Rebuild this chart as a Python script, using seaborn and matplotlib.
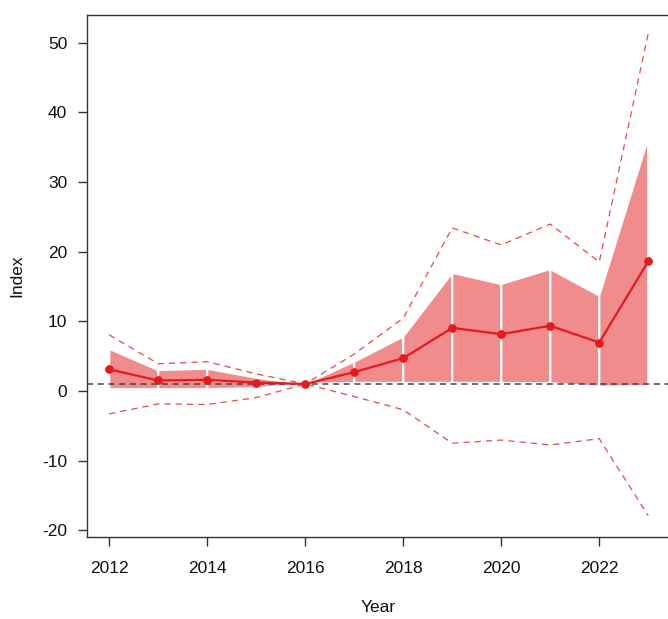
import matplotlib
matplotlib.use("Agg")
import matplotlib.pyplot as plt
import seaborn as sns
import pandas as pd

years = list(range(2012, 2024))
index_mid = [3.1, 1.5, 1.6, 1.2, 1.0, 2.7, 4.7, 9.05, 8.15, 9.35, 6.95, 18.6]
inner_hi = [6.05, 3.0, 3.2, 1.9, 1.0, 4.2, 7.8, 16.95, 15.35, 17.5, 13.7, 36.3]
inner_lo = [0.25, 0.25, 0.25, 0.4, 1.0, 1.15, 1.15, 1.15, 1.15, 1.1, 0.6, 0.7]
outer_hi = [8.05, 3.9, 4.2, 2.45, 1.0, 5.3, 10.45, 23.4, 20.95, 23.95, 18.5, 51.3]
outer_lo = [-3.3, -1.85, -1.95, -0.95, 1.0, -0.8, -2.7, -7.5, -7.05, -7.75, -6.85, -17.9]
baseline = 1.0
x_ticks = [2012, 2014, 2016, 2018, 2020, 2022]
y_ticks = [-20, -10, 0, 10, 20, 30, 40, 50]

df = pd.DataFrame({"Year": years, "Index": index_mid,
                   "hi": outer_hi, "lo": outer_lo})

sns.set_theme(style="white")
plt.rcParams["font.family"] = ["Liberation Sans", "DejaVu Sans"]

red = "#E41A1C"
shade = "#F18C8D"
axis_col = "#333333"

fig = plt.figure(figsize=(6.68, 6.19), dpi=100)
ax = fig.add_axes([0.1299, 0.132, 0.8728, 0.8438])

# inner band, one polygon per year step with white borders
for i in range(len(years) - 1):
    xs = [years[i], years[i + 1], years[i + 1], years[i]]
    ys = [inner_hi[i], inner_hi[i + 1], inner_lo[i + 1], inner_lo[i]]
    ax.fill(xs, ys, facecolor=shade, edgecolor="white", linewidth=1.6, zorder=1)

ax.axhline(baseline, color="#444444", linestyle=(0, (4, 3)), linewidth=1.1, zorder=2)

sns.lineplot(data=df, x="Year", y="hi", ax=ax, color=red, linewidth=0.9,
             linestyle=(0, (5, 4)), alpha=0.8, zorder=3)
sns.lineplot(data=df, x="Year", y="lo", ax=ax, color=red, linewidth=0.9,
             linestyle=(0, (5, 4)), alpha=0.8, zorder=3)
sns.lineplot(data=df, x="Year", y="Index", ax=ax, color=red, linewidth=1.6,
             marker="o", markersize=5.5, markeredgecolor=red, zorder=4)

ax.set_xlim(2011.542, 2023.44)
ax.set_ylim(-21.0, 53.95)
ax.set_xticks(x_ticks)
ax.set_yticks(y_ticks)
ax.set_xticklabels([str(t) for t in x_ticks])
ax.set_yticklabels([str(t) for t in y_ticks])

for s in ax.spines.values():
    s.set_color(axis_col)
    s.set_linewidth(1.0)
ax.tick_params(axis="both", which="major", direction="out", length=6.5, width=1.0,
               color=axis_col, labelsize=12.5, labelcolor="#111111",
               left=True, bottom=True)
ax.tick_params(axis="y", pad=7.5)
ax.tick_params(axis="x", pad=10.5)

ax.set_xlabel("Year", fontsize=12.5, color="#111111", labelpad=17.5)
ax.set_ylabel("Index", fontsize=12.5, color="#111111", labelpad=13)
ax.grid(False)

fig.savefig("out.png", dpi=100)
